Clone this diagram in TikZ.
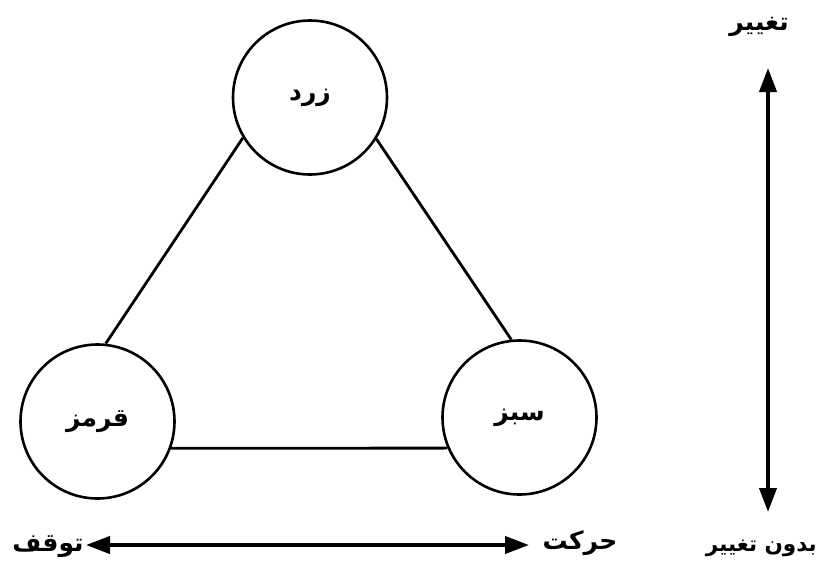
\documentclass[tikz,border=0pt]{standalone}
\usepackage{fontspec}
\usetikzlibrary{arrows.meta}
\TeXXeTstate=1
\newfontfamily\arabicfont[Script=Arabic]{DejaVu Sans}
\begin{document}
\begin{tikzpicture}[x=1pt,y=-1pt,
  arfont/.style={font=\arabicfont\bfseries\fontsize{25}{29}\selectfont},
  state/.style={draw, circle, line width=2.6pt, minimum size=154pt, inner sep=0pt, arfont},
  lbl/.style={inner sep=0pt, arfont},
  link/.style={line width=2.8pt},
  dbl/.style={{Triangle[length=24pt,width=17pt]}-{Triangle[length=24pt,width=17pt]}, line width=4pt}]
\useasboundingbox (0,0) rectangle (819,565);
\node[state] (yellow) at (310,97.5) {\beginR زرد\endR};
\node[state] (red) at (97.5,421.5) {\beginR قرمز\endR};
\node[state] (green) at (519.5,417.5) {\beginR سبز\endR};
\draw[link] (yellow.211) -- (red.84);
\draw[link] (yellow.328) -- (green.96);
\draw[link] (red.-20) -- (green.203);
\node[lbl] (change) at (759,27) {\beginR تغییر\endR};
\node[lbl, anchor=east, font=\arabicfont\bfseries\fontsize{21.5}{25}\selectfont] (nochange) at (817,548) {\beginR بدون تغییر\endR};
\node[lbl] (stop) at (48,547) {\beginR توقف\endR};
\node[lbl] (move) at (580,543) {\beginR حرکت\endR};
\coordinate (vtop) at (768,68);
\coordinate (vbot) at (768,512);
\coordinate (hleft) at (86,545);
\coordinate (hright) at (529,545);
\draw[dbl] (vtop) -- (vbot);
\draw[dbl] (hleft) -- (hright);
\end{tikzpicture}
\end{document}
